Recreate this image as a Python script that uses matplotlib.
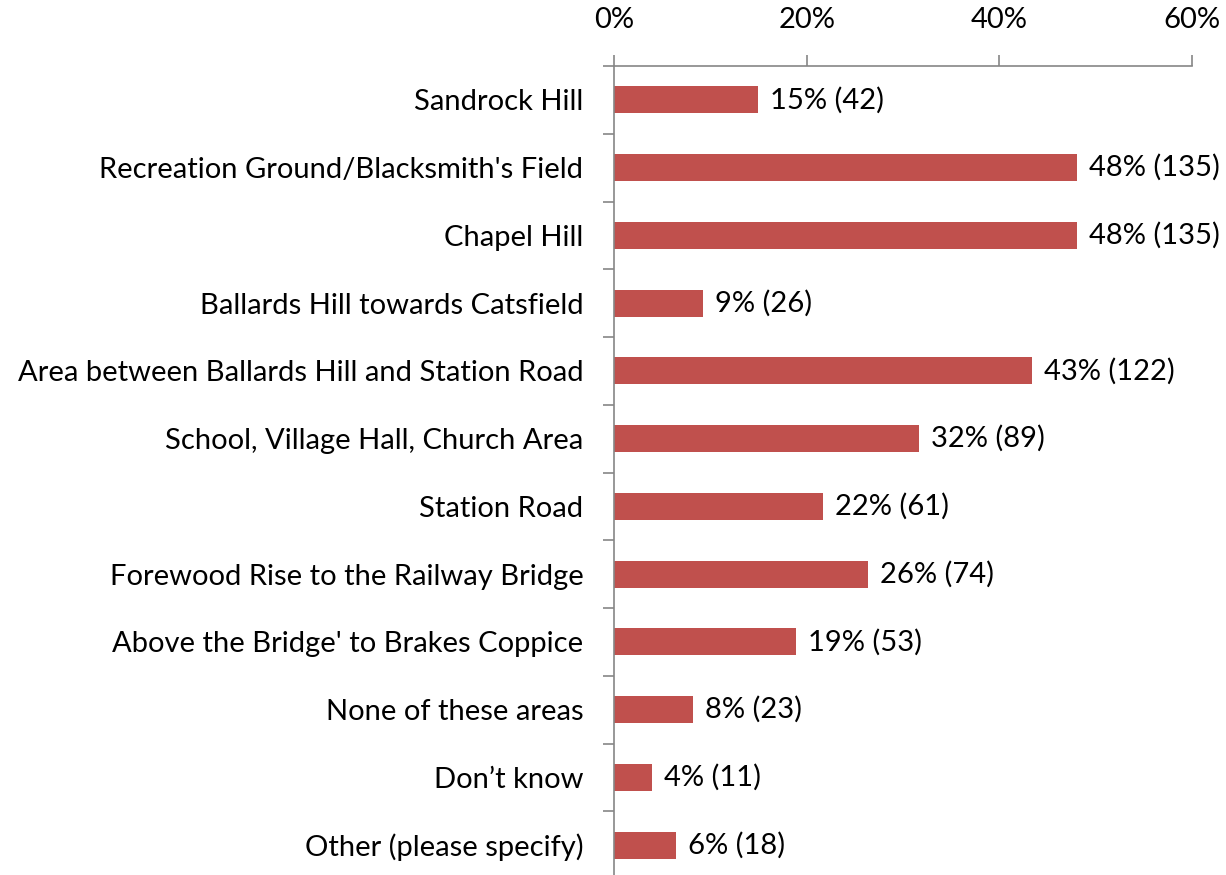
import matplotlib
matplotlib.use("Agg")
import matplotlib.pyplot as plt
import numpy as np

# Survey responses: which areas respondents selected
categories = [
    "Sandrock Hill",
    "Recreation Ground/Blacksmith's Field",
    "Chapel Hill",
    "Ballards Hill towards Catsfield",
    "Area between Ballards Hill and Station Road",
    "School, Village Hall, Church Area",
    "Station Road",
    "Forewood Rise to the Railway Bridge",
    "Above the Bridge' to Brakes Coppice",
    "None of these areas",
    "Don\u2019t know",
    "Other (please specify)",
]
counts = [42, 135, 135, 26, 122, 89, 61, 74, 53, 23, 11, 18]
total_respondents = 281
x_ticks = [0, 20, 40, 60]

percents = [100.0 * c / total_respondents for c in counts]

plt.rcParams['font.family'] = ['Lato', 'DejaVu Sans']
FS = 21
BAR = "#C0504D"
AXIS = "#868686"

fig = plt.figure(figsize=(12.26, 8.75), dpi=100)
# plot area runs from the top axis line down to just below the figure edge
ax = fig.add_axes([614 / 1226, -4 / 875, 578 / 1226, (875 - 66 + 4) / 875])

y = np.arange(len(categories))
ax.barh(y, percents, height=0.4, color=BAR)

for yi, p, c in zip(y, percents, counts):
    ax.text(p + 1.25, yi, f"{p:.0f}% ({c})", va="center", ha="left",
            fontsize=FS, color="black")

ax.set_xlim(0, 60)
ax.set_ylim(len(categories) - 0.5, -0.5)

ax.xaxis.tick_top()
ax.set_xticks(x_ticks)
ax.set_xticklabels([f"{t}%" for t in x_ticks], fontsize=FS, color="black")
ax.tick_params(axis="x", direction="out", length=8, width=1.2, color=AXIS, pad=16)

ax.set_yticks(y)
ax.set_yticklabels(categories, fontsize=FS, color="black")
ax.tick_params(axis="y", which="major", length=0, pad=22)
ax.set_yticks(np.arange(len(categories) + 1) - 0.5, minor=True)
ax.tick_params(axis="y", which="minor", direction="out", length=8, width=1.2, color=AXIS)

for side in ["right", "bottom"]:
    ax.spines[side].set_visible(False)
for side in ["top", "left"]:
    ax.spines[side].set_color(AXIS)
    ax.spines[side].set_linewidth(1.2)

fig.savefig("out.png", dpi=100)
